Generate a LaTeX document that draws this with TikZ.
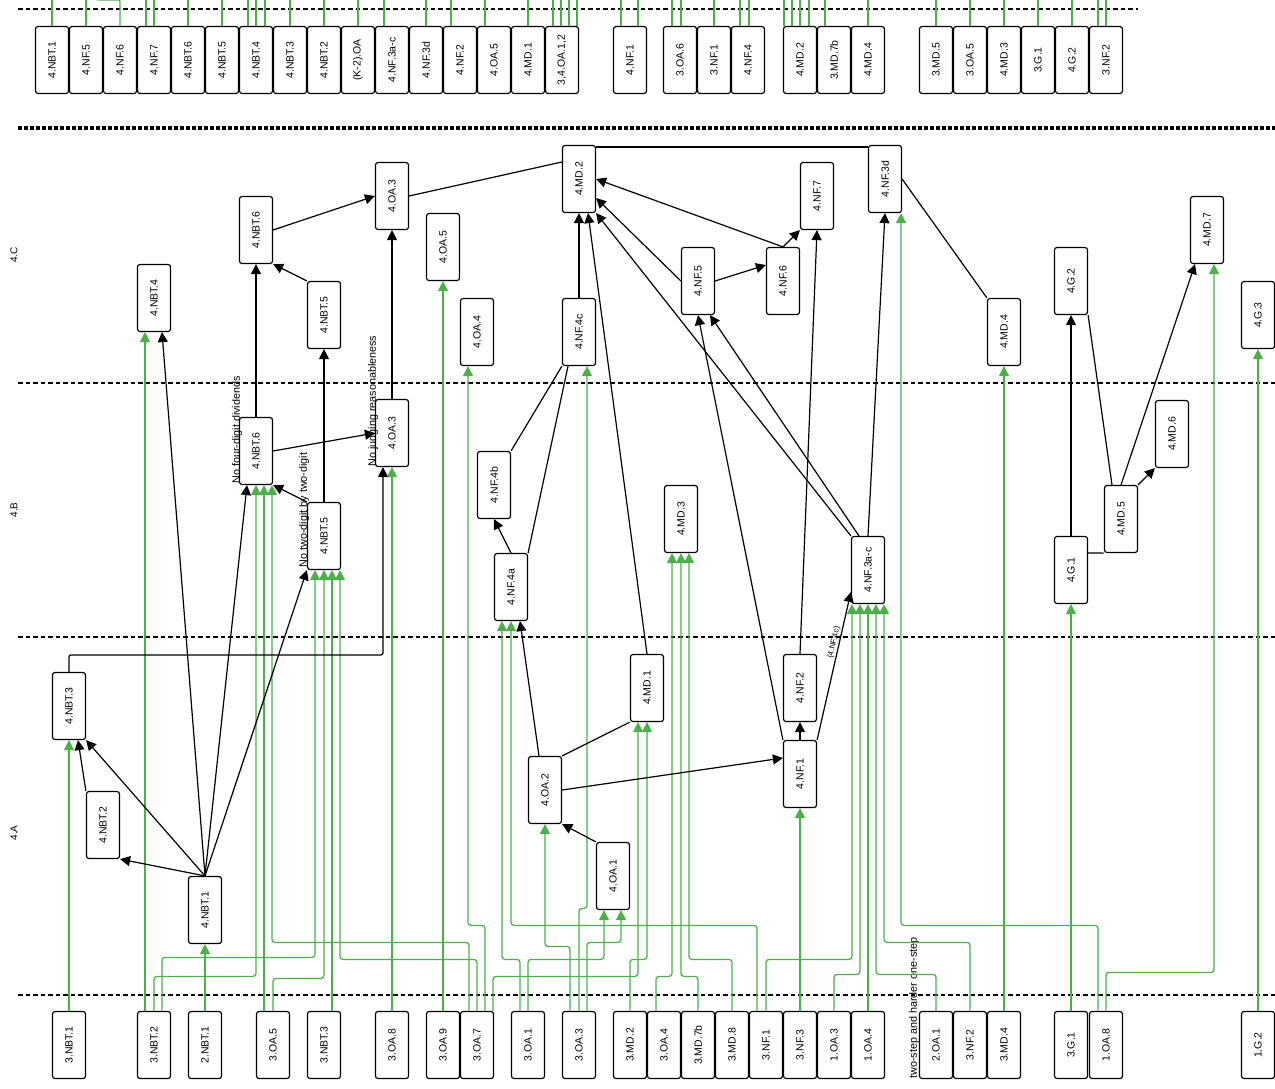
\documentclass[tikz,border=0pt]{standalone}
\usepackage{fontspec}
\setmainfont{Liberation Sans}
\usepackage{graphicx}
\usetikzlibrary{arrows.meta}
\definecolor{grn}{RGB}{77,175,74}
\newcommand\vlab[1]{\rotatebox{90}{#1}}
\newcommand\feed[5]{\draw[feed] ([xshift=#2]#1.north) -- ++(0,{#3-1011.5}) -| ([xshift=#5]#4.south);}

\begin{document}
\begin{tikzpicture}[x=1pt,y=-1pt,
  box/.style={draw,fill=white,line width=1.2pt,rounded corners=2.5pt,minimum width=33pt,minimum height=67pt,inner sep=0pt,font=\fontsize{10.5}{12}\selectfont},
  dep/.style={line width=1.2pt,rounded corners=2pt,-{Triangle[length=10pt,width=10pt]}},
  link/.style={line width=1.2pt},
  feed/.style={draw=grn,line width=1.3pt,rounded corners=3pt,-{Triangle[length=10pt,width=10pt]}},
  stub/.style={draw=grn,line width=1.3pt},
  lane/.style={line width=1.4pt,dash pattern=on 4.5pt off 3pt},
  note/.style={rotate=90,inner sep=0pt,font=\fontsize{10.8}{12}\selectfont},
  grade/.style={rotate=90,inner sep=0pt,font=\fontsize{10}{12}\selectfont}]
\useasboundingbox (0,0) rectangle (1275,1088);

\draw[lane] (18,9) -- (1138,9);
\draw[line width=4.5pt,dash pattern=on 3.5pt off 2.5pt] (18,128) -- (1275,128);
\foreach \y in {383,637,995}
  \draw[lane] (18,\y) -- (1275,\y);

\node[grade] (levC) at (14,255) {4.C};
\node[grade] (levB) at (14,510) {4.B};
\node[grade] (levA) at (14,833) {4.A};

% top row
\foreach \x/\t [count=\i] in {52/4.NBT.1,86/4.NF.5,120/4.NF.6,154/4.NF.7,188/4.NBT.6,222/4.NBT.5,256/4.NBT.4,290/4.NBT.3,324/4.NBT.2,358/{(K-2).OA},392/4.NF.3a-c,426/4.NF.3d,460/4.NF.2,494/4.OA.5,528/4.MD.1,562/{3,4.OA.1,2},630/4.NF.1,680/3.OA.6,714/3.NF.1,748/4.NF.4,800/4.MD.2,834/3.MD.7b,868/4.MD.4,936/3.MD.5,970/3.OA.5,1004/4.MD.3,1038/3.G.1,1072/4.G.2,1106/3.NF.2}
  \node[box] (top\i) at (\x,60) {\vlab{\t}};
\foreach \n/\d in {1/0,2/0,4/-8,4/0,5/0,6/0,7/-8,7/0,7/9,8/0,9/0,10/0,11/-8,12/0,13/-9,14/-9,15/0,16/-9,16/-1,16/7,16/15,17/-9,17/8,18/-8,18/1,19/0,20/-8,20/1,21/-16,21/-8,21/0,21/9,22/-9,23/0,24/0,25/0,26/0,27/0,28/0,29/-8,29/0}
  \draw[stub] ([xshift=\d]top\n.north) -- ++(0,-30);
\draw[stub,rounded corners=2pt] (top3.north) |- ++(-24,-26) -- ++(0,-10);

% 4.C
\node[box] (nbtfour) at (154,298) {\vlab{4.NBT.4}};
\node[box] (nbtsixC) at (256,230) {\vlab{4.NBT.6}};
\node[box] (nbtfiveC) at (324,315) {\vlab{4.NBT.5}};
\node[box] (oathreeC) at (392,196) {\vlab{4.OA.3}};
\node[box] (oafive) at (443,247) {\vlab{4.OA.5}};
\node[box] (oafour) at (477,332) {\vlab{4.OA.4}};
\node[box] (mdtwo) at (579,179) {\vlab{4.MD.2}};
\node[box] (nffourc) at (579,332) {\vlab{4.NF.4c}};
\node[box] (nffive) at (698,281) {\vlab{4.NF.5}};
\node[box] (nfsix) at (783,281) {\vlab{4.NF.6}};
\node[box] (nfseven) at (817,196) {\vlab{4.NF.7}};
\node[box] (nfthreed) at (885,179) {\vlab{4.NF.3d}};
\node[box] (mdfour) at (1004,332) {\vlab{4.MD.4}};
\node[box] (gtwo) at (1071,281) {\vlab{4.G.2}};
\node[box] (mdseven) at (1207,230) {\vlab{4.MD.7}};
\node[box] (gthree) at (1258,315) {\vlab{4.G.3}};

% 4.B
\node[box] (nbtsixB) at (256,451) {\vlab{4.NBT.6}};
\node[box] (oathreeB) at (392,433) {\vlab{4.OA.3}};
\node[box] (nbtfiveB) at (324,536) {\vlab{4.NBT.5}};
\node[box] (nffourb) at (494,485) {\vlab{4.NF.4b}};
\node[box] (nffoura) at (511,587) {\vlab{4.NF.4a}};
\node[box] (mdthree) at (681,519) {\vlab{4.MD.3}};
\node[box] (nfthreeac) at (868,570) {\vlab{4.NF.3a-c}};
\node[box] (mdsix) at (1172,434) {\vlab{4.MD.6}};
\node[box] (mdfive) at (1121,519) {\vlab{4.MD.5}};
\node[box] (gone) at (1071,570) {\vlab{4.G.1}};

% 4.A
\node[box] (nbtthree) at (69,706) {\vlab{4.NBT.3}};
\node[box] (nbttwo) at (103,825) {\vlab{4.NBT.2}};
\node[box] (nbtone) at (205,910) {\vlab{4.NBT.1}};
\node[box] (oatwo) at (545,790) {\vlab{4.OA.2}};
\node[box] (mdone) at (647,688) {\vlab{4.MD.1}};
\node[box] (oaone) at (613,876) {\vlab{4.OA.1}};
\node[box] (nftwo) at (800,688) {\vlab{4.NF.2}};
\node[box] (nfone) at (800,774) {\vlab{4.NF.1}};

% bottom row
\foreach \n/\x/\t in {bnbt1/69/3.NBT.1,bnbt2/154/3.NBT.2,bnbt21/205/2.NBT.1,boa5/273/3.OA.5,bnbt3/324/3.NBT.3,boa8/392/3.OA.8,boa9/443/3.OA.9,boa7/477/3.OA.7,boa1/528/3.OA.1,boa3/579/3.OA.3,bmd2/630/3.MD.2,boa4/664/3.OA.4,bmd7/698/3.MD.7b,bmd8/732/3.MD.8,bnf1/766/3.NF.1,bnf3/800/3.NF.3,b1oa3/834/1.OA.3,b1oa4/868/1.OA.4,b2oa1/936/2.OA.1,bnf2/970/3.NF.2,bmd4/1004/3.MD.4,bg1/1071/3.G.1,b1oa8/1106/1.OA.8,b1g2/1258/1.G.2}
  \node[box] (\n) at (\x,1045) {\vlab{\t}};

\node[note] (nodiv) at (237,430) {No four-digit dividends};
\node[note] (notwo) at (304,510) {No two-digit by two-digit};
\node[note] (nojudge) at (373,401) {No judging reasonableness};
\node[note] (harder) at (914,1008) {two-step and harder one-step};

% green feeds
\draw[feed] (bnbt1.north) -- (nbtthree.south);
\draw[feed] ([xshift=-9]bnbt2.north) -- ([xshift=-9]nbtfour.south);
\feed{bnbt2}{0}{977}{nbtsixB}{0}
\feed{bnbt2}{8}{958}{nbtfiveB}{-9}
\draw[feed] (bnbt21.north) -- (nbtone.south);
\draw[feed] ([xshift=-9]boa5.north) -- ([xshift=8]nbtsixB.south);
\feed{boa5}{0}{979}{nbtfiveB}{0}
\draw[feed] ([xshift=8]bnbt3.north) -- ([xshift=8]nbtfiveB.south);
\draw[feed] (boa8.north) -- (oathreeB.south);
\draw[feed] (boa9.north) -- (oafive.south);
\feed{boa7}{-8}{943}{nbtsixB}{16}
\feed{boa7}{0}{960}{nbtfiveB}{16}
\feed{boa7}{8}{926}{oafour}{-9}
\feed{boa7}{16}{977}{mdone}{-9}
\feed{boa1}{-8}{960}{nffoura}{-9}
\feed{boa1}{0}{960}{oaone}{-9}
\feed{boa3}{-9}{947}{oatwo}{0}
\feed{boa3}{0}{909}{nffourc}{8}
\feed{boa3}{8}{943}{oaone}{8}
\feed{bmd2}{0}{960}{mdone}{0}
\feed{boa4}{-8}{977}{mdthree}{-9}
\feed{bmd7}{0}{977}{mdthree}{0}
\feed{bmd8}{0}{960}{mdthree}{8}
\feed{bnf1}{-9}{926}{nffoura}{0}
\feed{bnf1}{0}{960}{nfthreeac}{-16}
\draw[feed] (bnf3.north) -- (nfone.south);
\feed{b1oa3}{0}{975}{nfthreeac}{-8}
\draw[feed] (b1oa4.north) -- (nfthreeac.south);
\feed{b2oa1}{0}{975}{nfthreeac}{8}
\feed{bnf2}{0}{943}{nfthreeac}{16}
\draw[feed] (bmd4.north) -- (mdfour.south);
\draw[feed] (bg1.north) -- (gone.south);
\feed{b1oa8}{-8}{926}{nfthreed}{16}
\feed{b1oa8}{0}{973}{mdseven}{7}
\draw[feed] (b1g2.north) -- (gthree.south);

% dependencies
\draw[dep] (nbtsixC.east) -- (oathreeC.west);
\draw[link] (oathreeC.east) -- ([yshift=17]mdtwo.west);
\draw[link] ([yshift=-2]mdtwo.north east) -- ([yshift=-2]nfthreed.north west);
\draw[link] (nfthreed.east) -- (mdfour.north west);
\draw[dep] (nbtfiveC.north west) -- (nbtsixC.south east);
\draw[dep] (nbtsixB.north) -- (nbtsixC.south);
\draw[dep] (nbtfiveB.north) -- (nbtfiveC.south);
\draw[dep] (oathreeB.north) -- (oathreeC.south);
\draw[dep] (nbtsixB.east) -- (oathreeB.west);
\draw[dep] (nbtfiveB.north west) -- (nbtsixB.south east);
\draw[dep] (nbtone.north) -- ([xshift=8]nbtfour.south);
\draw[dep] (nbtone.north) -- ([xshift=-9]nbtsixB.south);
\draw[dep] (nbtone.north) -- (nbtfiveB.south west);
\draw[dep] (nbtone.north) -- (nbttwo.south east);
\draw[dep] (nbtone.north) -- (nbtthree.south east);
\draw[dep] (nbttwo.north west) -- ([xshift=9]nbtthree.south);
\draw[dep] (nbtthree.north) -- ++(0,-17) -| ([xshift=-9]oathreeB.south);
\draw[dep] (nffoura.north) -- (nffourb.south);
\draw[link] (nffoura.north east) -- ([xshift=-11]nffourc.south);
\draw[link] (nffourb.north east) -- (nffourc.south west);
\draw[dep] (nffourc.north) -- (mdtwo.south);
\draw[dep] (mdone.north) -- ([xshift=9]mdtwo.south);
\draw[dep] (nffive.west) -- ([yshift=-19]mdtwo.east);
\draw[dep] (nfsix.north) -- (mdtwo.east);
\draw[dep] (nffive.east) -- ([yshift=16]nfsix.west);
\draw[dep] (nfsix.north) -- (nfseven.south west);
\draw[dep] (nfthreeac.north west) -- (mdtwo.south east);
\draw[dep] ([xshift=-9]nfthreeac.north) -- ([xshift=12]nffive.south);
\draw[dep] (nfthreeac.north) -- (nfthreed.south);
\draw[dep] (nfone.north west) -- (nffive.south);
\draw[dep] (nfone.north) -- (nftwo.south);
\draw[dep] (nftwo.north) -- (nfseven.south);
\draw[dep] (nfone.north east) -- node[pos=.65,sloped,above=1pt,inner sep=0pt,font=\fontsize{8}{9}\selectfont] {(4.NF.4c)} ([yshift=-22]nfthreeac.west);
\draw[dep] ([xshift=-6]oatwo.north) -- ([xshift=9]nffoura.south);
\draw[link] (oatwo.north east) -- (mdone.south west);
\draw[dep] (oatwo.east) -- ([yshift=16]nfone.west);
\draw[dep] (oaone.north west) -- (oatwo.south east);
\draw[dep] (gone.north) -- (gtwo.south);
\draw[link] ([yshift=17]gone.east) -- (mdfive.south west);
\draw[link] ([xshift=-9]mdfive.north) -- (gtwo.south east);
\draw[dep] (mdfive.north) -- ([xshift=-12]mdseven.south);
\draw[dep] (mdfive.north east) -- (mdsix.south west);
\end{tikzpicture}
\end{document}
